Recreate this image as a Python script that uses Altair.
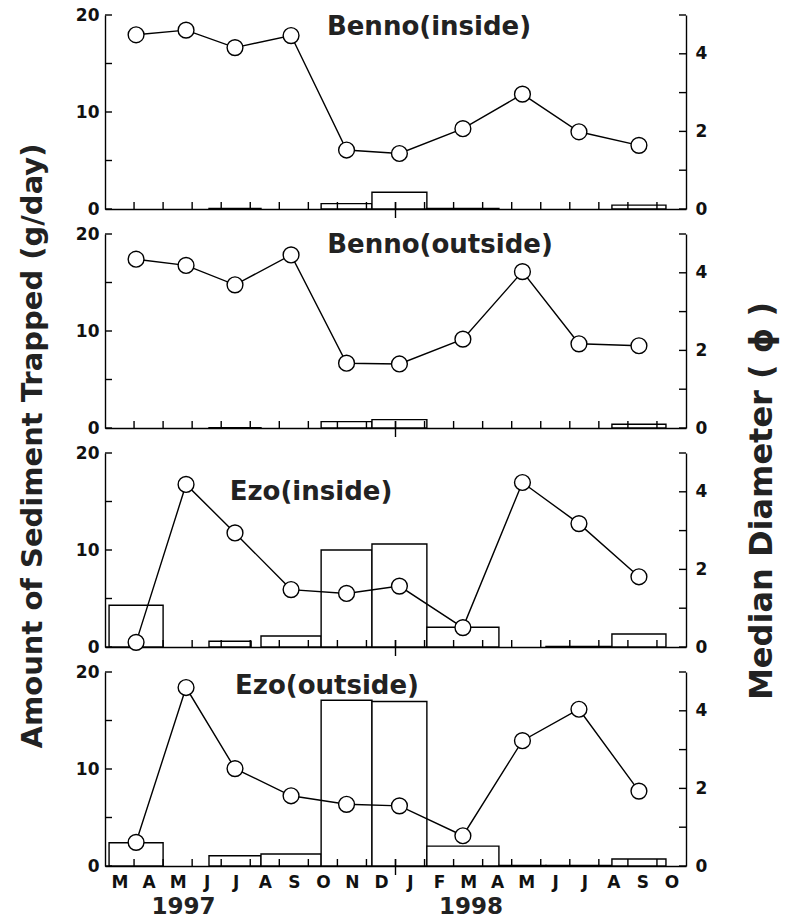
import altair as alt
import pandas as pd

# ---- data -------------------------------------------------------------
# one letter per month slot, Mar 1997 .. Oct 1998
month_letters = ["M", "A", "M", "J", "J", "A", "S", "O", "N", "D",
                 "J", "F", "M", "A", "M", "J", "J", "A", "S", "O"]
year_labels = ["1997", "1998"]
year_label_at = [2.7, 12.6]          # months since 1 Mar 1997
new_year_month = [10]                # 1 Jan 1998

# trap deployment periods, months since 1 Mar 1997
period_start = [0.14, 2.00, 3.58, 5.37, 7.44, 9.19, 11.08, 13.56, 15.18, 17.45]
period_end = [2.00, 3.58, 5.37, 7.44, 9.19, 11.08, 13.56, 15.18, 17.45, 19.31]
# Ezo(inside): the third trap was recovered early
ezo_in_end = [2.00, 3.58, 5.03, 7.44, 9.19, 11.08, 13.56, 15.18, 17.45, 19.31]

station_names = ["Benno(inside)", "Benno(outside)", "Ezo(inside)", "Ezo(outside)"]

# amount of sediment trapped (g/day)
benno_in_sed = [0.0, 0.0, 0.05, 0.0, 0.55, 1.72, 0.05, 0.0, 0.0, 0.40]
benno_out_sed = [0.0, 0.0, 0.04, 0.0, 0.66, 0.86, 0.0, 0.0, 0.0, 0.38]
ezo_in_sed = [4.31, 0.0, 0.59, 1.14, 10.0, 10.62, 2.03, 0.0, 0.05, 1.34]
ezo_out_sed = [2.39, 0.0, 1.06, 1.23, 17.09, 16.96, 2.05, 0.05, 0.05, 0.72]

# median diameter (phi)
benno_in_phi = [4.49, 4.61, 4.16, 4.47, 1.52, 1.43, 2.07, 2.96, 1.99, 1.64]
benno_out_phi = [4.35, 4.19, 3.69, 4.46, 1.67, 1.65, 2.29, 4.03, 2.17, 2.12]
ezo_in_phi = [0.12, 4.19, 2.94, 1.48, 1.38, 1.57, 0.50, 4.24, 3.18, 1.81]
ezo_out_phi = [0.61, 4.60, 2.51, 1.81, 1.59, 1.55, 0.78, 3.23, 4.04, 1.93]

sed_ticks = [0, 5, 10, 15, 20]
sed_labels = [0, 10, 20]
phi_ticks = [0, 1, 2, 3, 4, 5]
phi_labels = [0, 2, 4]

# ---- layout / style ---------------------------------------------------
W, H = 581, 194
GAP = 25
FONT = "DejaVu Sans"
LW = 1.4
TICK = 7
title_pos = {
    "Benno(inside)": (324, 12),
    "Benno(outside)": (335, 11),
    "Ezo(inside)": (206, 39),
    "Ezo(outside)": (222, 14),
}

x_scale = alt.Scale(domain=[0, len(month_letters)], nice=False, zero=False)
sed_scale = alt.Scale(domain=[sed_ticks[0], sed_ticks[-1]], nice=False)
phi_scale = alt.Scale(domain=[phi_ticks[0], phi_ticks[-1]], nice=False)

letters_js = "[" + ",".join("'%s'" % m for m in month_letters) + "]"


def x_axis(bottom):
    if bottom:
        return alt.Axis(values=[i + 0.5 for i in range(len(month_letters))],
                        labelExpr=letters_js + "[floor(datum.value)]",
                        tickSize=0, labelPadding=8, labelFont=FONT,
                        labelFontSize=17, labelFontWeight="bold",
                        labelColor="#111", domainColor="black",
                        domainWidth=LW, grid=False, title=None)
    return alt.Axis(labels=False, ticks=False, domainColor="black",
                    domainWidth=LW, grid=False, title=None)


sed_axis = alt.Axis(values=sed_labels, tickSize=0, labelPadding=6,
                    labelFont=FONT, labelFontSize=17, labelFontWeight="bold",
                    labelColor="#111", domainColor="black", domainWidth=LW,
                    grid=False, title=None, orient="left")
phi_axis = alt.Axis(values=phi_labels, tickSize=0, labelPadding=9,
                    labelFont=FONT, labelFontSize=17, labelFontWeight="bold",
                    labelColor="#111", domainColor="black", domainWidth=LW,
                    grid=False, title=None, orient="right")


def panel(name, sed, phi, bar_end=period_end, bottom=False, extras=()):
    df = pd.DataFrame({"start": period_start, "end": period_end,
                       "bar_end": bar_end, "sed": sed, "phi": phi})
    X = lambda f: alt.X(f, type="quantitative", scale=x_scale, axis=x_axis(bottom))
    Ysed = alt.Y("sed:Q", scale=sed_scale, axis=sed_axis)
    Yphi = alt.Y("phi:Q", scale=phi_scale, axis=phi_axis)

    bars = alt.Chart(df).transform_filter("datum.sed > 0").mark_rect(
        fill="white", stroke="black", strokeWidth=LW
    ).encode(x=X("start"), x2="bar_end", y=Ysed, y2=alt.datum(0))

    left_ticks = alt.Chart(pd.DataFrame({"sed": sed_ticks})).mark_rule(
        color="black", strokeWidth=LW
    ).encode(y=Ysed, x=alt.value(0), x2=alt.value(TICK))

    month_ticks = alt.Chart(pd.DataFrame({"m": list(range(1, len(month_letters)))})).mark_rule(
        color="black", strokeWidth=LW
    ).encode(x=X("m"), y=alt.value(H), y2=alt.value(H - TICK))

    year_tick = alt.Chart(pd.DataFrame({"m": new_year_month})).mark_rule(
        color="black", strokeWidth=LW
    ).encode(x=X("m"), y=alt.value(H - TICK), y2=alt.value(H + 9))

    left = alt.layer(bars, left_ticks, month_ticks, year_tick)

    # median diameter plotted at the middle of each deployment period
    base = alt.Chart(df).transform_calculate(mid="(datum.start + datum.end) / 2")
    line = base.mark_line(color="black", strokeWidth=LW).encode(
        x=X("mid"), y=Yphi, order="start:Q")
    points = base.mark_point(shape="circle", filled=True, fill="white",
                             stroke="black", strokeWidth=LW, size=250,
                             opacity=1).encode(x=X("mid"), y=Yphi)
    right_ticks = alt.Chart(pd.DataFrame({"phi": phi_ticks})).mark_rule(
        color="black", strokeWidth=LW
    ).encode(y=Yphi, x=alt.value(W - TICK), x2=alt.value(W))

    right = alt.layer(line, right_ticks, points)

    tx, ty = title_pos[name]
    label = alt.Chart(pd.DataFrame({"t": [name]})).mark_text(
        font=FONT, fontSize=26, fontWeight="bold", color="#222",
        align="center", baseline="middle"
    ).encode(text="t:N", x=alt.value(tx), y=alt.value(ty))

    return alt.layer(left, right, label, *extras).resolve_scale(
        y="independent").properties(width=W, height=H)


# axis titles spanning all four panels
left_title = alt.Chart(pd.DataFrame({"t": ["Amount of Sediment Trapped (g/day)"]})).mark_text(
    font=FONT, fontSize=29, fontWeight="bold", color="#222", angle=270,
    align="center", baseline="middle"
).encode(text="t:N", x=alt.value(-72), y=alt.value(431))

right_title = alt.Chart(pd.DataFrame({"t": ["Median Diameter ( \u03d5 )"]})).mark_text(
    font=FONT, fontSize=32, fontWeight="bold", color="#222", angle=270,
    align="center", baseline="middle"
).encode(text="t:N", x=alt.value(W + 76), y=alt.value(486))

years = alt.Chart(pd.DataFrame({"year": year_labels, "m": year_label_at})).mark_text(
    font=FONT, fontSize=23, fontWeight="bold", color="#222",
    align="center", baseline="middle"
).encode(text="year:N",
         x=alt.X("m:Q", scale=x_scale, axis=x_axis(True)),
         y=alt.value(H + 41))

chart = alt.vconcat(
    panel(station_names[0], benno_in_sed, benno_in_phi, extras=(left_title, right_title)),
    panel(station_names[1], benno_out_sed, benno_out_phi),
    panel(station_names[2], ezo_in_sed, ezo_in_phi, bar_end=ezo_in_end),
    panel(station_names[3], ezo_out_sed, ezo_out_phi, bottom=True, extras=(years,)),
    spacing=GAP, bounds="flush",
).properties(
    padding={"left": 18, "top": 6, "right": 5, "bottom": 5},
    background="white",
).configure_view(stroke=None)

chart.save("out.html", embed_options={"renderer": "svg", "actions": False})
